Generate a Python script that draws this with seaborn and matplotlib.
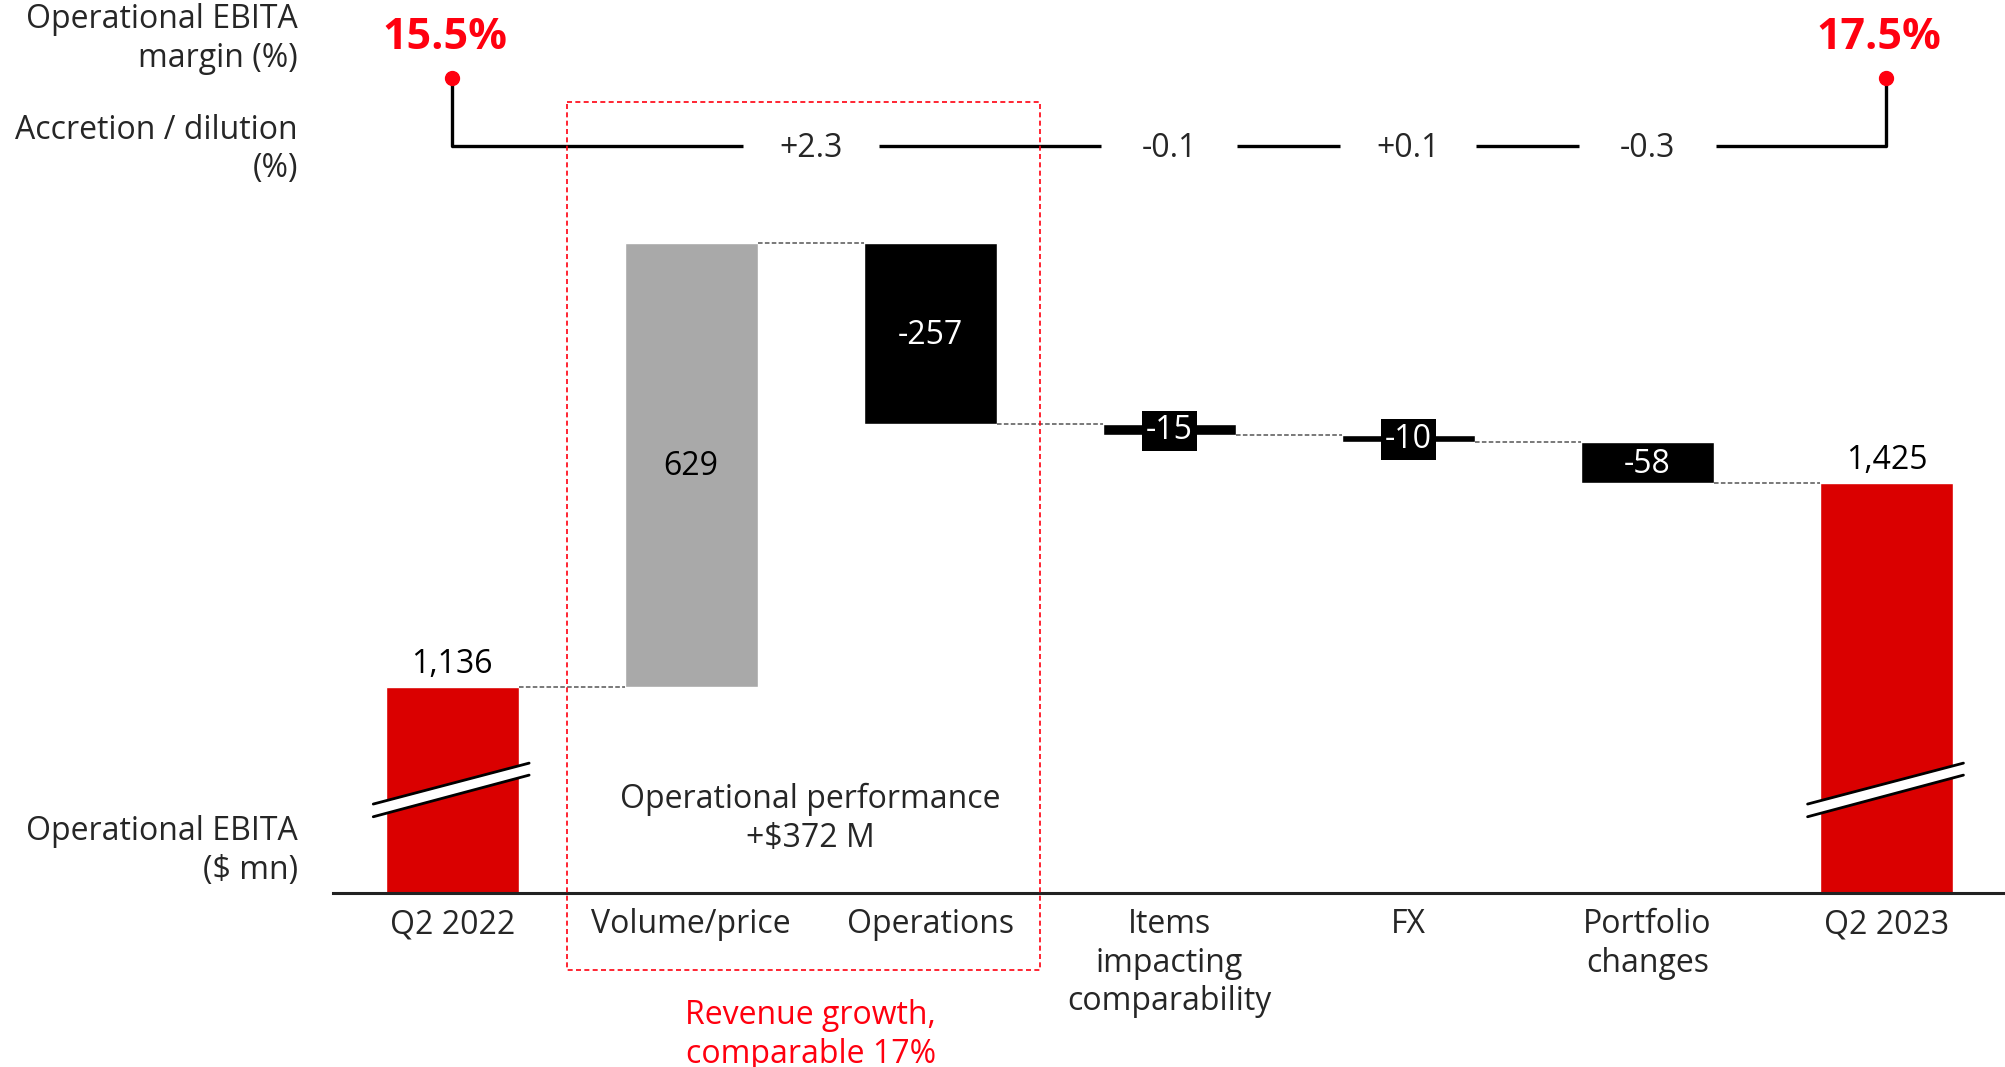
import numpy as np
import pandas as pd
import matplotlib
matplotlib.use("Agg")
import matplotlib.pyplot as plt
import matplotlib.transforms as mtransforms
import seaborn as sns

# Data
categories = ["Q2 2022", "Volume/price", "Operations", "Items\nimpacting\ncomparability",
              "FX", "Portfolio\nchanges", "Q2 2023"]
deltas = [1136, 629, -257, -15, -10, -58, 1425]
is_total = [True, False, False, False, False, False, True]
bar_colors = ["#DA0000", "#A9A9A9", "#000000", "#000000", "#000000", "#000000", "#DA0000"]
value_labels = ["1,136", "629", "-257", "-15", "-10", "-58", "1,425"]
margin_start, margin_end = "15.5%", "17.5%"
accretion_labels = ["+2.3", "-0.1", "+0.1", "-0.3"]
accretion_pos = [1.5, 3, 4, 5]

# waterfall tops / bottoms
tops, bottoms = [], []
running = 0
for d, tot in zip(deltas, is_total):
    if tot:
        tops.append(d)
        bottoms.append(0)
        running = d
    else:
        new = running + d
        tops.append(max(running, new))
        bottoms.append(min(running, new))
        running = new

df = pd.DataFrame({"cat": categories, "top": tops, "bottom": bottoms})

sns.set_style("white")
plt.rcParams['font.family'] = ['Open Sans', 'DejaVu Sans']
FS = 23
LS = 1.22
RED_TXT = "#FF000F"

fig = plt.figure(figsize=(20.06, 10.67), dpi=100)
ax = fig.add_axes([260 / 1568, 1 - 698 / 834, 1308 / 1568, 698 / 834])

W = 0.556
sns.barplot(data=df, x="cat", y="top", hue="cat", palette=dict(zip(categories, bar_colors)),
            order=categories, width=W, legend=False, ax=ax, saturation=1, zorder=1)
sns.barplot(data=df, x="cat", y="bottom", color="white", order=categories, width=W,
            ax=ax, saturation=1, zorder=1.5)

ax.set_xlim(-0.5, 6.5)
ax.set_ylim(844, 2109)
ax.set_xlabel("")
ax.set_ylabel("")
ax.set_yticks([])
sns.despine(ax=ax, left=True, top=True, right=True)
ax.spines["bottom"].set_linewidth(2.2)
ax.spines["bottom"].set_color("#222222")
ax.tick_params(axis="x", length=0, pad=11, labelsize=FS)
for lab in ax.get_xticklabels():
    lab.set_linespacing(LS)
    lab.set_verticalalignment("top")

# connectors
levels = []
running = 0
for d, tot in zip(deltas, is_total):
    running = d if tot else running + d
    levels.append(running)
for i in range(len(categories) - 1):
    ax.plot([i + W / 2, i + 1 - W / 2], [levels[i], levels[i]], ls=(0, (3, 1.5)),
            color="#555555", lw=1.1, zorder=2)

# value labels
for i, (lab, t, b) in enumerate(zip(value_labels, tops, bottoms)):
    if is_total[i]:
        ax.annotate(lab, (i, t), xytext=(0, 4), textcoords="offset points",
                    ha="center", va="bottom", fontsize=FS, color="black")
    elif lab == "629":
        ax.text(i, (t + b) / 2 - 3, lab, ha="center", va="center", fontsize=FS, color="black")
    elif t - b < 30:
        ax.text(i, (t + b) / 2 - 2, lab, ha="center", va="center", fontsize=FS, color="white",
                bbox=dict(boxstyle="square,pad=0.12", fc="black", ec="none"), zorder=4)
    else:
        ax.text(i, (t + b) / 2 - 3, lab, ha="center", va="center", fontsize=FS, color="white")

# axis break marks
for i in [0, 6]:
    xs = np.array([i - 0.33, i + 0.322])
    lo = np.array([952, 1011])
    hi = np.array([970, 1028])
    ax.fill_between(xs, lo, hi, color="white", zorder=3, lw=0)
    ax.plot(xs, lo, color="black", lw=2, zorder=3.5)
    ax.plot(xs, hi, color="black", lw=2, zorder=3.5)

# top part: margin & accretion line
trans = mtransforms.blended_transform_factory(ax.transData, ax.transAxes)
y_line = (698 - 114) / 698
y_dot = (698 - 61) / 698
y_marg = (698 - 29) / 698
gap = 0.285
segs = [0] + [v for p in accretion_pos for v in (p - gap, p + gap)] + [6]
for a, b in zip(segs[0::2], segs[1::2]):
    ax.plot([a, b], [y_line, y_line], color="black", lw=2.4, transform=trans,
            clip_on=False, solid_capstyle="butt", zorder=3)
for xx in [0, 6]:
    ax.plot([xx, xx], [y_dot, y_line], color="black", lw=2.4, transform=trans,
            clip_on=False, zorder=3)
    ax.plot([xx], [y_dot], "o", color=RED_TXT, ms=10, transform=trans, clip_on=False, zorder=4)
for lab, p in zip(accretion_labels, accretion_pos):
    ax.text(p, (698 - 116) / 698, lab, ha="center", va="center", fontsize=FS, transform=trans)
ax.text(-0.03, y_marg, margin_start, ha="center", va="center", fontsize=31, fontweight="bold",
        color=RED_TXT, transform=trans)
ax.text(5.97, y_marg, margin_end, ha="center", va="center", fontsize=31, fontweight="bold",
        color=RED_TXT, transform=trans)

# operational performance box
box_bottom = (698 - 758) / 698
box_top = (698 - 80) / 698
ax.plot([0.48, 2.46, 2.46, 0.48, 0.48], [box_top, box_top, box_bottom, box_bottom, box_top],
        color=RED_TXT, lw=1.2, ls=(0, (3, 2)), transform=trans, clip_on=False, zorder=5)
ax.text(1.5, (698 - 640) / 698, "Operational performance\n+$372 M", ha="center", va="center",
        fontsize=FS, linespacing=LS, transform=trans)
ax.text(1.5, (698 - 809) / 698, "Revenue growth,\ncomparable 17%", ha="center", va="center",
        fontsize=FS, color=RED_TXT, linespacing=LS, transform=trans, clip_on=False)

# row labels
xl = 233 / 1568
fig.text(xl, 1 - 30.5 / 834, "Operational EBITA\nmargin (%)", ha="right", va="center",
         fontsize=FS, linespacing=LS)
fig.text(xl, 1 - 117 / 834, "Accretion / dilution\n(%)", ha="right", va="center",
         fontsize=FS, linespacing=LS)
fig.text(xl, 1 - 665 / 834, "Operational EBITA\n($ mn)", ha="right", va="center",
         fontsize=FS, linespacing=LS)

fig.savefig("out.png", dpi=100)
